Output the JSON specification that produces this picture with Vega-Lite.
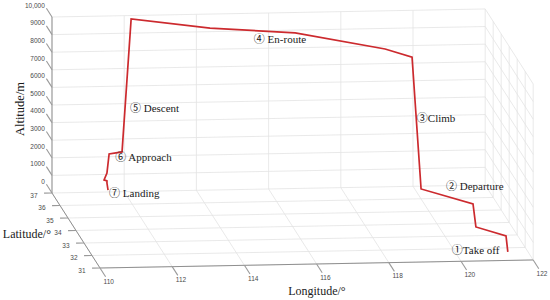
{
  "$schema": "https://vega.github.io/schema/vega-lite/v6.json",
  "width": 550,
  "height": 300,
  "padding": 0,
  "autosize": {"type": "fit", "contains": "padding"},
  "background": "white",
  "config": {"view": {"stroke": null}},
  "datasets": {
    "seg": [
      {"part": "grid", "lon": 110, "lat": 31, "alt": 0, "lon2": 122, "lat2": 31, "alt2": 0},
      {"part": "grid", "lon": 110, "lat": 32, "alt": 0, "lon2": 122, "lat2": 32, "alt2": 0},
      {"part": "grid", "lon": 110, "lat": 33, "alt": 0, "lon2": 122, "lat2": 33, "alt2": 0},
      {"part": "grid", "lon": 110, "lat": 34, "alt": 0, "lon2": 122, "lat2": 34, "alt2": 0},
      {"part": "grid", "lon": 110, "lat": 35, "alt": 0, "lon2": 122, "lat2": 35, "alt2": 0},
      {"part": "grid", "lon": 110, "lat": 36, "alt": 0, "lon2": 122, "lat2": 36, "alt2": 0},
      {"part": "grid", "lon": 110, "lat": 37, "alt": 0, "lon2": 122, "lat2": 37, "alt2": 0},
      {"part": "grid", "lon": 110, "lat": 31, "alt": 0, "lon2": 110, "lat2": 37, "alt2": 0},
      {"part": "grid", "lon": 112, "lat": 31, "alt": 0, "lon2": 112, "lat2": 37, "alt2": 0},
      {"part": "grid", "lon": 114, "lat": 31, "alt": 0, "lon2": 114, "lat2": 37, "alt2": 0},
      {"part": "grid", "lon": 116, "lat": 31, "alt": 0, "lon2": 116, "lat2": 37, "alt2": 0},
      {"part": "grid", "lon": 118, "lat": 31, "alt": 0, "lon2": 118, "lat2": 37, "alt2": 0},
      {"part": "grid", "lon": 120, "lat": 31, "alt": 0, "lon2": 120, "lat2": 37, "alt2": 0},
      {"part": "grid", "lon": 122, "lat": 31, "alt": 0, "lon2": 122, "lat2": 37, "alt2": 0},
      {"part": "grid", "lon": 110, "lat": 37, "alt": 0, "lon2": 110, "lat2": 37, "alt2": 10000},
      {"part": "grid", "lon": 112, "lat": 37, "alt": 0, "lon2": 112, "lat2": 37, "alt2": 10000},
      {"part": "grid", "lon": 114, "lat": 37, "alt": 0, "lon2": 114, "lat2": 37, "alt2": 10000},
      {"part": "grid", "lon": 116, "lat": 37, "alt": 0, "lon2": 116, "lat2": 37, "alt2": 10000},
      {"part": "grid", "lon": 118, "lat": 37, "alt": 0, "lon2": 118, "lat2": 37, "alt2": 10000},
      {"part": "grid", "lon": 120, "lat": 37, "alt": 0, "lon2": 120, "lat2": 37, "alt2": 10000},
      {"part": "grid", "lon": 122, "lat": 37, "alt": 0, "lon2": 122, "lat2": 37, "alt2": 10000},
      {"part": "grid", "lon": 110, "lat": 37, "alt": 1000, "lon2": 122, "lat2": 37, "alt2": 1000},
      {"part": "grid", "lon": 110, "lat": 37, "alt": 2000, "lon2": 122, "lat2": 37, "alt2": 2000},
      {"part": "grid", "lon": 110, "lat": 37, "alt": 3000, "lon2": 122, "lat2": 37, "alt2": 3000},
      {"part": "grid", "lon": 110, "lat": 37, "alt": 4000, "lon2": 122, "lat2": 37, "alt2": 4000},
      {"part": "grid", "lon": 110, "lat": 37, "alt": 5000, "lon2": 122, "lat2": 37, "alt2": 5000},
      {"part": "grid", "lon": 110, "lat": 37, "alt": 6000, "lon2": 122, "lat2": 37, "alt2": 6000},
      {"part": "grid", "lon": 110, "lat": 37, "alt": 7000, "lon2": 122, "lat2": 37, "alt2": 7000},
      {"part": "grid", "lon": 110, "lat": 37, "alt": 8000, "lon2": 122, "lat2": 37, "alt2": 8000},
      {"part": "grid", "lon": 110, "lat": 37, "alt": 9000, "lon2": 122, "lat2": 37, "alt2": 9000},
      {"part": "grid", "lon": 110, "lat": 37, "alt": 10000, "lon2": 122, "lat2": 37, "alt2": 10000},
      {"part": "grid", "lon": 122, "lat": 31, "alt": 0, "lon2": 122, "lat2": 31, "alt2": 10000},
      {"part": "grid", "lon": 122, "lat": 32, "alt": 0, "lon2": 122, "lat2": 32, "alt2": 10000},
      {"part": "grid", "lon": 122, "lat": 33, "alt": 0, "lon2": 122, "lat2": 33, "alt2": 10000},
      {"part": "grid", "lon": 122, "lat": 34, "alt": 0, "lon2": 122, "lat2": 34, "alt2": 10000},
      {"part": "grid", "lon": 122, "lat": 35, "alt": 0, "lon2": 122, "lat2": 35, "alt2": 10000},
      {"part": "grid", "lon": 122, "lat": 36, "alt": 0, "lon2": 122, "lat2": 36, "alt2": 10000},
      {"part": "grid", "lon": 122, "lat": 31, "alt": 1000, "lon2": 122, "lat2": 37, "alt2": 1000},
      {"part": "grid", "lon": 122, "lat": 31, "alt": 2000, "lon2": 122, "lat2": 37, "alt2": 2000},
      {"part": "grid", "lon": 122, "lat": 31, "alt": 3000, "lon2": 122, "lat2": 37, "alt2": 3000},
      {"part": "grid", "lon": 122, "lat": 31, "alt": 4000, "lon2": 122, "lat2": 37, "alt2": 4000},
      {"part": "grid", "lon": 122, "lat": 31, "alt": 5000, "lon2": 122, "lat2": 37, "alt2": 5000},
      {"part": "grid", "lon": 122, "lat": 31, "alt": 6000, "lon2": 122, "lat2": 37, "alt2": 6000},
      {"part": "grid", "lon": 122, "lat": 31, "alt": 7000, "lon2": 122, "lat2": 37, "alt2": 7000},
      {"part": "grid", "lon": 122, "lat": 31, "alt": 8000, "lon2": 122, "lat2": 37, "alt2": 8000},
      {"part": "grid", "lon": 122, "lat": 31, "alt": 9000, "lon2": 122, "lat2": 37, "alt2": 9000},
      {"part": "grid", "lon": 122, "lat": 31, "alt": 10000, "lon2": 122, "lat2": 37, "alt2": 10000},
      {"part": "axis", "lon": 110, "lat": 31, "alt": 0, "lon2": 122, "lat2": 31, "alt2": 0},
      {"part": "axis", "lon": 110, "lat": 31, "alt": 0, "lon2": 110, "lat2": 37, "alt2": 0},
      {"part": "axis", "lon": 110, "lat": 37, "alt": 0, "lon2": 110, "lat2": 37, "alt2": 10000},
      {"part": "tick", "lon": 110, "lat": 31, "alt": 0, "lon2": 110, "lat2": 30.3, "alt2": 0},
      {"part": "tick", "lon": 112, "lat": 31, "alt": 0, "lon2": 112, "lat2": 30.3, "alt2": 0},
      {"part": "tick", "lon": 114, "lat": 31, "alt": 0, "lon2": 114, "lat2": 30.3, "alt2": 0},
      {"part": "tick", "lon": 116, "lat": 31, "alt": 0, "lon2": 116, "lat2": 30.3, "alt2": 0},
      {"part": "tick", "lon": 118, "lat": 31, "alt": 0, "lon2": 118, "lat2": 30.3, "alt2": 0},
      {"part": "tick", "lon": 120, "lat": 31, "alt": 0, "lon2": 120, "lat2": 30.3, "alt2": 0},
      {"part": "tick", "lon": 122, "lat": 31, "alt": 0, "lon2": 122, "lat2": 30.3, "alt2": 0},
      {"part": "tick", "lon": 110, "lat": 31, "alt": 0, "lon2": 109.78, "lat2": 31, "alt2": 0},
      {"part": "tick", "lon": 110, "lat": 32, "alt": 0, "lon2": 109.78, "lat2": 32, "alt2": 0},
      {"part": "tick", "lon": 110, "lat": 33, "alt": 0, "lon2": 109.78, "lat2": 33, "alt2": 0},
      {"part": "tick", "lon": 110, "lat": 34, "alt": 0, "lon2": 109.78, "lat2": 34, "alt2": 0},
      {"part": "tick", "lon": 110, "lat": 35, "alt": 0, "lon2": 109.78, "lat2": 35, "alt2": 0},
      {"part": "tick", "lon": 110, "lat": 36, "alt": 0, "lon2": 109.78, "lat2": 36, "alt2": 0},
      {"part": "tick", "lon": 110, "lat": 37, "alt": 0, "lon2": 109.78, "lat2": 37, "alt2": 0},
      {"part": "tick", "lon": 110, "lat": 37, "alt": 0, "lon2": 110, "lat2": 37.7, "alt2": 0},
      {"part": "tick", "lon": 110, "lat": 37, "alt": 1000, "lon2": 110, "lat2": 37.7, "alt2": 1000},
      {"part": "tick", "lon": 110, "lat": 37, "alt": 2000, "lon2": 110, "lat2": 37.7, "alt2": 2000},
      {"part": "tick", "lon": 110, "lat": 37, "alt": 3000, "lon2": 110, "lat2": 37.7, "alt2": 3000},
      {"part": "tick", "lon": 110, "lat": 37, "alt": 4000, "lon2": 110, "lat2": 37.7, "alt2": 4000},
      {"part": "tick", "lon": 110, "lat": 37, "alt": 5000, "lon2": 110, "lat2": 37.7, "alt2": 5000},
      {"part": "tick", "lon": 110, "lat": 37, "alt": 6000, "lon2": 110, "lat2": 37.7, "alt2": 6000},
      {"part": "tick", "lon": 110, "lat": 37, "alt": 7000, "lon2": 110, "lat2": 37.7, "alt2": 7000},
      {"part": "tick", "lon": 110, "lat": 37, "alt": 8000, "lon2": 110, "lat2": 37.7, "alt2": 8000},
      {"part": "tick", "lon": 110, "lat": 37, "alt": 9000, "lon2": 110, "lat2": 37.7, "alt2": 9000},
      {"part": "tick", "lon": 110, "lat": 37, "alt": 10000, "lon2": 110, "lat2": 37.7, "alt2": 10000}
    ],
    "track": [
      {"seq": 1, "lon": 121.43, "lat": 31.6, "alt": 50},
      {"seq": 2, "lon": 121.38, "lat": 31.6, "alt": 960},
      {"seq": 3, "lon": 120.59, "lat": 31.8, "alt": 1360},
      {"seq": 4, "lon": 120.51, "lat": 31.8, "alt": 2670},
      {"seq": 5, "lon": 119.16, "lat": 32.2, "alt": 3290},
      {"seq": 6, "lon": 119.42, "lat": 34.5, "alt": 9140},
      {"seq": 7, "lon": 118.74, "lat": 34.8, "alt": 9410},
      {"seq": 8, "lon": 116.47, "lat": 35.8, "alt": 9700},
      {"seq": 9, "lon": 114.2, "lat": 36.2, "alt": 9780},
      {"seq": 10, "lon": 112.17, "lat": 36.9, "alt": 9880},
      {"seq": 11, "lon": 111.94, "lat": 37.0, "alt": 2260},
      {"seq": 12, "lon": 111.56, "lat": 36.9, "alt": 2230},
      {"seq": 13, "lon": 111.5, "lat": 36.9, "alt": 1150},
      {"seq": 14, "lon": 111.42, "lat": 36.9, "alt": 760},
      {"seq": 15, "lon": 111.5, "lat": 36.9, "alt": 700},
      {"seq": 16, "lon": 111.5, "lat": 36.9, "alt": 580},
      {"seq": 17, "lon": 111.53, "lat": 36.9, "alt": 180}
    ],
    "stages": [
      {"label": "①Take off", "lon": 119.88, "lat": 31.6, "alt": 160},
      {"label": "② Departure", "lon": 119.76, "lat": 31.8, "alt": 3660},
      {"label": "③Climb", "lon": 119.22, "lat": 33, "alt": 6690},
      {"label": "④ En-route", "lon": 115.37, "lat": 36, "alt": 9200},
      {"label": "⑤ Descent", "lon": 112.16, "lat": 37, "alt": 4690},
      {"label": "⑥ Approach", "lon": 111.75, "lat": 37, "alt": 1920},
      {"label": "⑦ Landing", "lon": 111.47, "lat": 36.5, "alt": 240}
    ],
    "ticklabels": [
      {"axis": "lon", "label": "110", "lon": 110, "lat": 29.9, "alt": 0},
      {"axis": "lon", "label": "112", "lon": 112, "lat": 29.9, "alt": 0},
      {"axis": "lon", "label": "114", "lon": 114, "lat": 29.9, "alt": 0},
      {"axis": "lon", "label": "116", "lon": 116, "lat": 29.9, "alt": 0},
      {"axis": "lon", "label": "118", "lon": 118, "lat": 29.9, "alt": 0},
      {"axis": "lon", "label": "120", "lon": 120, "lat": 29.9, "alt": 0},
      {"axis": "lon", "label": "122", "lon": 122, "lat": 29.9, "alt": 0},
      {"axis": "lat", "label": "31", "lon": 109.5, "lat": 31, "alt": -150},
      {"axis": "lat", "label": "32", "lon": 109.5, "lat": 32, "alt": -150},
      {"axis": "lat", "label": "33", "lon": 109.5, "lat": 33, "alt": -150},
      {"axis": "lat", "label": "34", "lon": 109.5, "lat": 34, "alt": -150},
      {"axis": "lat", "label": "35", "lon": 109.5, "lat": 35, "alt": -150},
      {"axis": "lat", "label": "36", "lon": 109.5, "lat": 36, "alt": -150},
      {"axis": "lat", "label": "37", "lon": 109.5, "lat": 37, "alt": -150},
      {"axis": "alt", "label": "0", "lon": 110, "lat": 37.9, "alt": 0},
      {"axis": "alt", "label": "1000", "lon": 110, "lat": 37.9, "alt": 1000},
      {"axis": "alt", "label": "2000", "lon": 110, "lat": 37.9, "alt": 2000},
      {"axis": "alt", "label": "3000", "lon": 110, "lat": 37.9, "alt": 3000},
      {"axis": "alt", "label": "4000", "lon": 110, "lat": 37.9, "alt": 4000},
      {"axis": "alt", "label": "5000", "lon": 110, "lat": 37.9, "alt": 5000},
      {"axis": "alt", "label": "6000", "lon": 110, "lat": 37.9, "alt": 6000},
      {"axis": "alt", "label": "7000", "lon": 110, "lat": 37.9, "alt": 7000},
      {"axis": "alt", "label": "8000", "lon": 110, "lat": 37.9, "alt": 8000},
      {"axis": "alt", "label": "9000", "lon": 110, "lat": 37.9, "alt": 9000},
      {"axis": "alt", "label": "10,000", "lon": 110, "lat": 37.9, "alt": 10000}
    ],
    "titles": [
      {"title": "Altitude/m", "rot": "yes", "lon": 109.114, "lat": 37, "alt": 4806},
      {"title": "Latitude/°", "rot": "no", "lon": 108.64, "lat": 34, "alt": -147},
      {"title": "Longitude/°", "rot": "no", "lon": 115.61, "lat": 29.2, "alt": -242}
    ]
  },
  "layer": [
    {
      "data": {"name": "seg"},
      "transform": [
        {"calculate": "100 + 36.1*(datum.lon-110) - 8*(datum.lat-31)", "as": "u"},
        {"calculate": "268 - 0.67*(datum.lon-110) - 12.5*(datum.lat-31) - 0.0176*datum.alt", "as": "v"},
        {"calculate": "100 + 36.1*(datum.lon2-110) - 8*(datum.lat2-31)", "as": "u2"},
        {"calculate": "268 - 0.67*(datum.lon2-110) - 12.5*(datum.lat2-31) - 0.0176*datum.alt2", "as": "v2"}
      ],
      "mark": {"type": "rule"},
      "encoding": {
        "x": {"field": "u", "type": "quantitative", "scale": {"domain": [0, 550], "nice": false, "zero": false}, "axis": null},
        "y": {"field": "v", "type": "quantitative", "scale": {"domain": [0, 300], "nice": false, "zero": false, "reverse": true}, "axis": null},
        "x2": {"field": "u2"},
        "y2": {"field": "v2"},
        "color": {"field": "part", "type": "nominal", "scale": {"domain": ["grid", "axis", "tick"], "range": ["#e3e3e3", "#8a8a8a", "#9a9a9a"]}, "legend": null},
        "size": {"field": "part", "type": "nominal", "scale": {"domain": ["grid", "axis", "tick"], "range": [0.8, 1.1, 0.8]}, "legend": null}
      }
    },
    {
      "data": {"name": "track"},
      "transform": [
        {"calculate": "100 + 36.1*(datum.lon-110) - 8*(datum.lat-31)", "as": "u"},
        {"calculate": "268 - 0.67*(datum.lon-110) - 12.5*(datum.lat-31) - 0.0176*datum.alt", "as": "v"}
      ],
      "mark": {"type": "line", "color": "#cc2a2e", "strokeWidth": 1.7, "strokeJoin": "miter"},
      "encoding": {
        "x": {"field": "u", "type": "quantitative"},
        "y": {"field": "v", "type": "quantitative"},
        "order": {"field": "seq", "type": "quantitative"}
      }
    },
    {
      "data": {"name": "stages"},
      "transform": [
        {"calculate": "100 + 36.1*(datum.lon-110) - 8*(datum.lat-31)", "as": "u"},
        {"calculate": "268 - 0.67*(datum.lon-110) - 12.5*(datum.lat-31) - 0.0176*datum.alt", "as": "v"}
      ],
      "mark": {"type": "text", "align": "left", "baseline": "middle", "font": "Liberation Serif, Noto Sans CJK JP", "fontSize": 11, "color": "#1a1a1a"},
      "encoding": {
        "x": {"field": "u", "type": "quantitative"},
        "y": {"field": "v", "type": "quantitative"},
        "text": {"field": "label"}
      }
    },
    {
      "data": {"name": "ticklabels"},
      "transform": [
        {"filter": "datum.axis !== 'alt'"},
        {"calculate": "100 + 36.1*(datum.lon-110) - 8*(datum.lat-31)", "as": "u"},
        {"calculate": "268 - 0.67*(datum.lon-110) - 12.5*(datum.lat-31) - 0.0176*datum.alt", "as": "v"}
      ],
      "mark": {"type": "text", "align": "center", "baseline": "middle", "font": "Liberation Sans", "fontSize": 6.5, "color": "#4a4a4a"},
      "encoding": {
        "x": {"field": "u", "type": "quantitative"},
        "y": {"field": "v", "type": "quantitative"},
        "text": {"field": "label"}
      }
    },
    {
      "data": {"name": "ticklabels"},
      "transform": [
        {"filter": "datum.axis === 'alt'"},
        {"calculate": "100 + 36.1*(datum.lon-110) - 8*(datum.lat-31)", "as": "u"},
        {"calculate": "268 - 0.67*(datum.lon-110) - 12.5*(datum.lat-31) - 0.0176*datum.alt", "as": "v"}
      ],
      "mark": {"type": "text", "align": "right", "baseline": "middle", "font": "Liberation Sans", "fontSize": 6.5, "color": "#4a4a4a"},
      "encoding": {
        "x": {"field": "u", "type": "quantitative"},
        "y": {"field": "v", "type": "quantitative"},
        "text": {"field": "label"}
      }
    },
    {
      "data": {"name": "titles"},
      "transform": [
        {"filter": "datum.rot === 'no'"},
        {"calculate": "100 + 36.1*(datum.lon-110) - 8*(datum.lat-31)", "as": "u"},
        {"calculate": "268 - 0.67*(datum.lon-110) - 12.5*(datum.lat-31) - 0.0176*datum.alt", "as": "v"}
      ],
      "mark": {"type": "text", "align": "center", "baseline": "middle", "font": "Liberation Serif", "fontSize": 12, "color": "#1a1a1a"},
      "encoding": {
        "x": {"field": "u", "type": "quantitative"},
        "y": {"field": "v", "type": "quantitative"},
        "text": {"field": "title"}
      }
    },
    {
      "data": {"name": "titles"},
      "transform": [
        {"filter": "datum.rot === 'yes'"},
        {"calculate": "100 + 36.1*(datum.lon-110) - 8*(datum.lat-31)", "as": "u"},
        {"calculate": "268 - 0.67*(datum.lon-110) - 12.5*(datum.lat-31) - 0.0176*datum.alt", "as": "v"}
      ],
      "mark": {"type": "text", "align": "center", "baseline": "middle", "angle": 270, "font": "Liberation Serif", "fontSize": 12.5, "color": "#1a1a1a"},
      "encoding": {
        "x": {"field": "u", "type": "quantitative"},
        "y": {"field": "v", "type": "quantitative"},
        "text": {"field": "title"}
      }
    }
  ]
}
